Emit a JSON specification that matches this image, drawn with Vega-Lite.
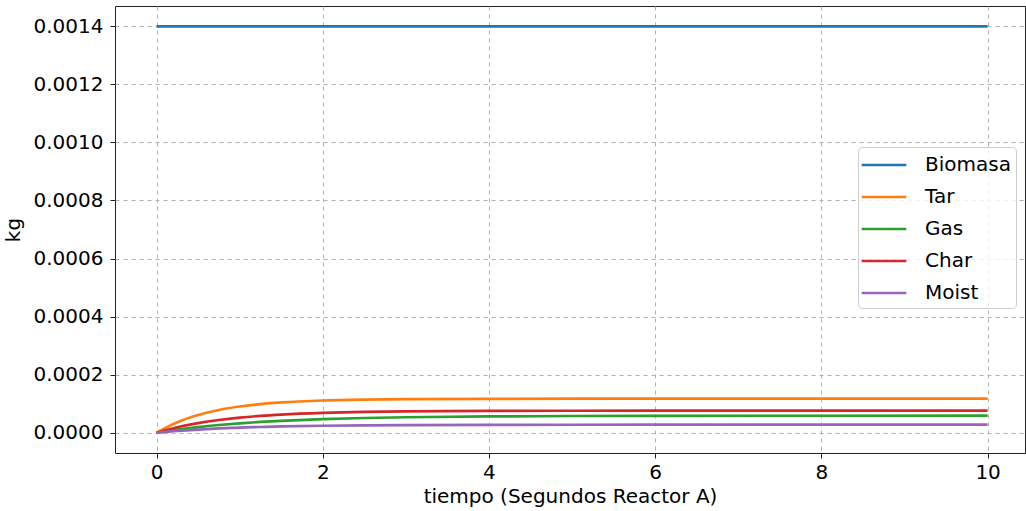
{
  "$schema": "https://vega.github.io/schema/vega-lite/v6.json",
  "width": 910,
  "height": 447,
  "autosize": {"type": "none"},
  "padding": {"left": 115, "top": 6, "right": 1, "bottom": 58},
  "background": "white",
  "config": {
    "font": "DejaVu Sans",
    "view": {"stroke": "#222", "strokeWidth": 1}
  },
  "data": {"values": [
    {"t": 0, "Biomasa": 0.0014, "Tar": 0, "Gas": 0, "Char": 0, "Moist": 0},
    {"t": 0.25, "Biomasa": 0.0014, "Tar": 0.0000360, "Gas": 0.0000106, "Char": 0.0000189, "Moist": 0.0000061},
    {"t": 0.5, "Biomasa": 0.0014, "Tar": 0.0000609, "Gas": 0.0000193, "Char": 0.0000331, "Moist": 0.0000108},
    {"t": 0.75, "Biomasa": 0.0014, "Tar": 0.0000782, "Gas": 0.0000264, "Char": 0.0000437, "Moist": 0.0000145},
    {"t": 1, "Biomasa": 0.0014, "Tar": 0.0000901, "Gas": 0.0000322, "Char": 0.0000517, "Moist": 0.0000174},
    {"t": 1.25, "Biomasa": 0.0014, "Tar": 0.0000984, "Gas": 0.0000370, "Char": 0.0000577, "Moist": 0.0000196},
    {"t": 1.5, "Biomasa": 0.0014, "Tar": 0.0001041, "Gas": 0.0000409, "Char": 0.0000622, "Moist": 0.0000214},
    {"t": 2, "Biomasa": 0.0014, "Tar": 0.0001108, "Gas": 0.0000467, "Char": 0.0000681, "Moist": 0.0000238},
    {"t": 2.5, "Biomasa": 0.0014, "Tar": 0.0001140, "Gas": 0.0000506, "Char": 0.0000714, "Moist": 0.0000252},
    {"t": 3, "Biomasa": 0.0014, "Tar": 0.0001156, "Gas": 0.0000532, "Char": 0.0000733, "Moist": 0.0000261},
    {"t": 4, "Biomasa": 0.0014, "Tar": 0.0001167, "Gas": 0.0000561, "Char": 0.0000749, "Moist": 0.0000270},
    {"t": 5, "Biomasa": 0.0014, "Tar": 0.0001170, "Gas": 0.0000574, "Char": 0.0000755, "Moist": 0.0000273},
    {"t": 6, "Biomasa": 0.0014, "Tar": 0.0001170, "Gas": 0.0000580, "Char": 0.0000757, "Moist": 0.0000275},
    {"t": 8, "Biomasa": 0.0014, "Tar": 0.0001170, "Gas": 0.0000584, "Char": 0.0000757, "Moist": 0.0000275},
    {"t": 10, "Biomasa": 0.0014, "Tar": 0.0001170, "Gas": 0.0000585, "Char": 0.0000757, "Moist": 0.0000275}
  ]},
  "transform": [
    {"fold": ["Biomasa", "Tar", "Gas", "Char", "Moist"], "as": ["serie", "kg"]}
  ],
  "mark": {"type": "line", "strokeWidth": 2.7, "interpolate": "monotone", "clip": true},
  "encoding": {
    "x": {
      "field": "t", "type": "quantitative",
      "scale": {"domain": [-0.5, 10.45], "nice": false, "zero": false},
      "axis": {
        "title": "tiempo (Segundos Reactor A)",
        "values": [0, 2, 4, 6, 8, 10],
        "format": "d",
        "labelFontSize": 20, "titleFontSize": 20, "titleFontWeight": "normal",
        "labelColor": "#000", "titleColor": "#000",
        "tickColor": "#222", "tickSize": 5, "labelPadding": 4, "titlePadding": 4,
        "domain": false,
        "grid": true, "gridColor": "#b0b0b0", "gridDash": [4, 4], "gridWidth": 1
      }
    },
    "y": {
      "field": "kg", "type": "quantitative",
      "scale": {"domain": [-0.00007, 0.00147], "nice": false, "zero": false},
      "axis": {
        "title": "kg",
        "values": [0, 0.0002, 0.0004, 0.0006, 0.0008, 0.001, 0.0012, 0.0014],
        "format": ".4f",
        "labelFontSize": 20, "titleFontSize": 20, "titleFontWeight": "normal",
        "labelColor": "#000", "titleColor": "#000",
        "tickColor": "#222", "tickSize": 5, "labelPadding": 7, "titlePadding": 10,
        "domain": false,
        "grid": true, "gridColor": "#b0b0b0", "gridDash": [4, 4], "gridWidth": 1
      }
    },
    "color": {
      "field": "serie", "type": "nominal",
      "sort": ["Biomasa", "Tar", "Gas", "Char", "Moist"],
      "scale": {
        "domain": ["Biomasa", "Tar", "Gas", "Char", "Moist"],
        "range": ["#1f77b4", "#ff7f0e", "#2ca02c", "#d62728", "#9467bd"]
      },
      "legend": {
        "title": null,
        "orient": "none",
        "legendX": 743,
        "legendY": 141,
        "symbolType": "M-2,0L2,0",
        "symbolSize": 500,
        "symbolStrokeWidth": 2.7,
        "symbolFillColor": "transparent",
        "symbolOffset": 8,
        "labelFontSize": 20,
        "labelColor": "#000",
        "rowPadding": 9,
        "labelOffset": 28,
        "padding": 5,
        "fillColor": "rgba(255,255,255,0.8)",
        "strokeColor": "#cccccc",
        "cornerRadius": 4
      }
    }
  }
}
